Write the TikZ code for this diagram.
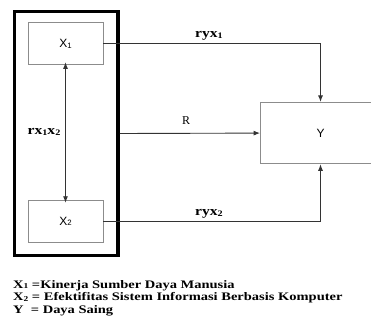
\documentclass[tikz,border=0pt]{standalone}
\usepackage{fontspec}
\setmainfont{Liberation Serif}
\newfontfamily\arialfont{Liberation Sans}
\usetikzlibrary{arrows.meta}
\newcommand{\subdig}[1]{\raisebox{-0.1ex}{\scalebox{0.65}{#1}}}
\tikzset{
  x=1pt, y=-1pt,
  varbox/.style={draw=black!45, line width=0.9pt, minimum width=75pt, minimum height=42pt, inner sep=0pt, font=\arialfont\fontsize{12}{13}\selectfont},
  groupbox/.style={draw=black, line width=3.8pt, minimum width=103.5pt, minimum height=244pt, inner sep=0pt},
  conn/.style={draw=black!80, line width=0.9pt},
  tip/.style={-{Latex[length=6.5pt,width=5pt]}},
  lbl/.style={font=\bfseries\fontsize{13}{14}\selectfont, inner sep=0pt},
  legend/.style={font=\bfseries\fontsize{11.5}{13}\selectfont, inner sep=0pt, anchor=base west}
}
\begin{document}
\begin{tikzpicture}
\clip (0,0) rectangle (371,323);
\fill[white] (0,0) rectangle (371,323);
\node[groupbox] (grp) at (66.25,133.5) {};
\node[varbox] (x1) at (65.5,43.9) {X\subdig{1}};
\node[varbox] (x2) at (65.5,221.2) {X\subdig{2}};
\node[varbox, minimum width=120pt, minimum height=61.5pt] (y) at (320.5,133.1) {Y};
\draw[conn, {Latex[length=6.5pt,width=5pt]}-{Latex[length=6.5pt,width=5pt]}] ([yshift=3pt]x1.south) -- ([yshift=-3pt]x2.north);
\draw[conn, tip] (x1.east) -| (y.north);
\draw[conn, tip] (x2.east) -| (y.south);
\draw[conn, tip] (grp.east) -- (y.west);
\node[lbl] (l1) at (209,36) {\scalebox{1.2}[1]{ryx\subdig{1}}};
\node[lbl] (l2) at (209,214) {\scalebox{1.2}[1]{ryx\subdig{2}}};
\node[font=\fontsize{12}{13}\selectfont, inner sep=0pt] (lr) at (186,120.5) {R};
\node[lbl] (l12) at (44,132) {\scalebox{1.2}[1]{rx\subdig{1}x\subdig{2}}};
\node[legend] (g1) at (13,288) {\scalebox{1.26}[1]{X\subdig{1} =Kinerja Sumber Daya Manusia}};
\node[legend] (g2) at (13,300.5) {\scalebox{1.26}[1]{X\subdig{2} = Efektifitas Sistem Informasi Berbasis Komputer}};
\node[legend] (g3) at (13,313) {\scalebox{1.26}[1]{Y\ \ = Daya Saing}};
\end{tikzpicture}
\end{document}
